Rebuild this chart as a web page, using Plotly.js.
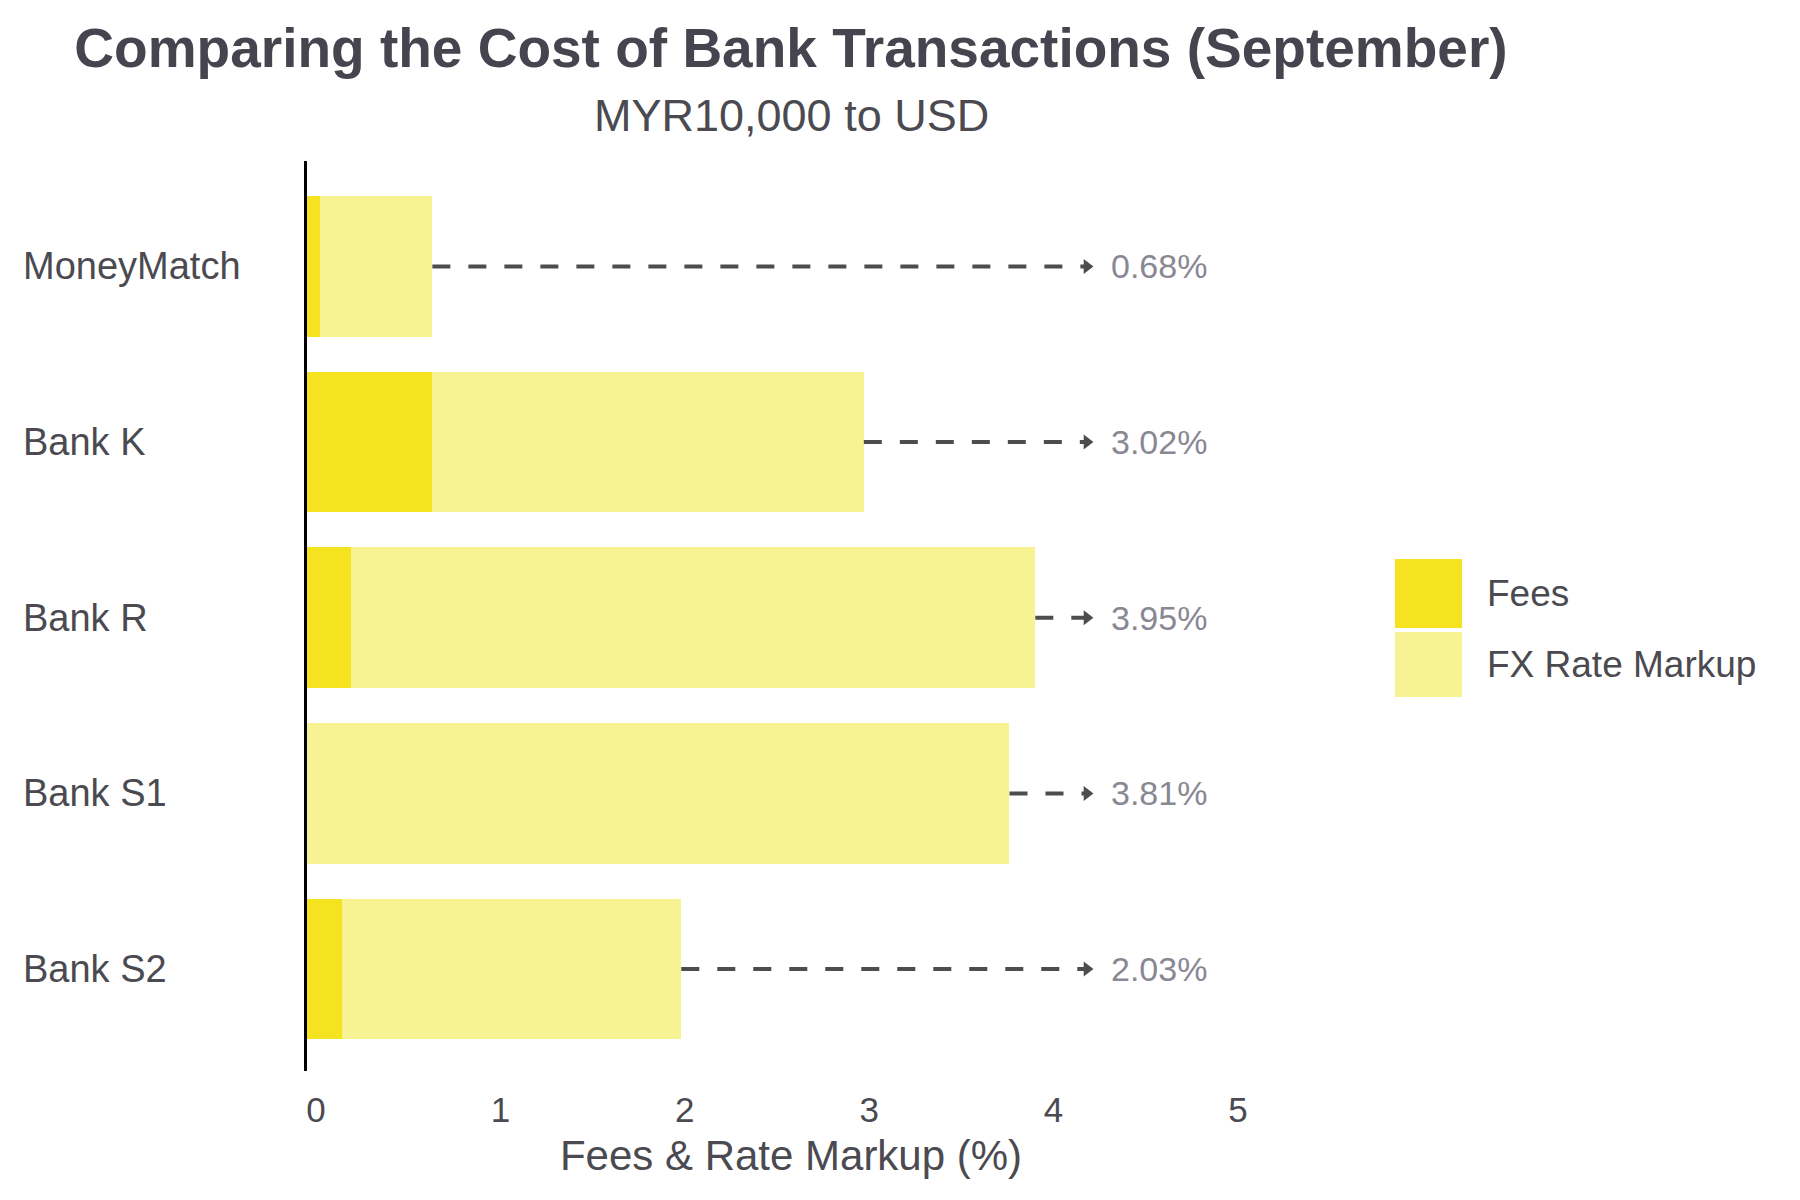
<!DOCTYPE html>
<html>
<head>
<meta charset="utf-8">
<script src="https://cdn.plot.ly/plotly-3.0.1.min.js"></script>
<style>
  body { margin: 0; background: #fff; }
  #chart { width: 1800px; height: 1200px; }
</style>
</head>
<body>
<div id="chart"></div>
<script>
// --- data ---
const banks = ['MoneyMatch', 'Bank K', 'Bank R', 'Bank S1', 'Bank S2'];
const fees = [0.07, 0.68, 0.24, 0.00, 0.19];
const markup = [0.61, 2.34, 3.71, 3.81, 1.84];
const totals = [0.68, 3.02, 3.95, 3.81, 2.03];
const seriesNames = ['Fees', 'FX Rate Markup'];
const seriesColors = ['#F5E31F', '#F7F292'];
const xTicks = [0, 1, 2, 3, 4, 5];

const ARROW_END = 4.23;
const LABEL_X = 4.35;

// plot area in pixels (used to place legend / subtitle in paper units)
const M = { l: 307, r: 525, t: 161, b: 129 };
const W = 1800, H = 1200;
const PW = W - M.l - M.r, PH = H - M.t - M.b;
const px = x => (x - M.l) / PW;
const py = y => (H - M.b - y) / PH;

const FONT = 'Liberation Sans, Arial, sans-serif';

// stacked bars
const traces = [
    {
        type: 'bar', orientation: 'h', name: seriesNames[0],
        y: banks, x: fees, width: 0.8,
        marker: { color: seriesColors[0], line: { width: 0 } },
        showlegend: false, hoverinfo: 'skip'
    },
    {
        type: 'bar', orientation: 'h', name: seriesNames[1],
        y: banks, x: markup, width: 0.8,
        marker: { color: seriesColors[1], line: { width: 0 } },
        showlegend: false, hoverinfo: 'skip'
    }
];

// dashed leaders from bar end to arrow
banks.forEach((b, i) => {
    traces.push({
        type: 'scatter', mode: 'lines',
        x: [totals[i], ARROW_END], y: [b, b],
        line: { color: '#4d4d4d', width: 4, dash: '18px,18px' },
        showlegend: false, hoverinfo: 'skip'
    });
});
traces.push({
    type: 'scatter', mode: 'markers',
    x: banks.map(() => ARROW_END), y: banks,
    marker: { symbol: 'triangle-right', size: 13, color: '#4d4d4d' },
    showlegend: false, hoverinfo: 'skip'
});

const annotations = [];

// category labels, left aligned
banks.forEach(b => {
    annotations.push({
        xref: 'paper', yref: 'y', x: px(21), y: b,
        xanchor: 'left', yanchor: 'middle', showarrow: false,
        text: b, font: { family: FONT, size: 38, color: '#4a4a50' }
    });
});

// value labels
banks.forEach((b, i) => {
    annotations.push({
        xref: 'x', yref: 'y', x: LABEL_X, y: b,
        xanchor: 'left', yanchor: 'middle', showarrow: false,
        text: totals[i].toFixed(2) + '%',
        font: { family: FONT, size: 34, color: '#888893' }
    });
});

// subtitle
annotations.push({
    xref: 'paper', yref: 'paper', x: px(791), y: py(116),
    xanchor: 'center', yanchor: 'middle', showarrow: false,
    text: 'MYR10,000 to USD', font: { family: FONT, size: 45, color: '#4a4a50' }
});

// legend (drawn by hand, keys are large squares)
const shapes = [];
const keyTop = [559, 632], keyBot = [628, 697];
seriesNames.forEach((n, i) => {
    shapes.push({
        type: 'rect', xref: 'paper', yref: 'paper',
        x0: px(1395), x1: px(1462), y0: py(keyBot[i]), y1: py(keyTop[i]),
        fillcolor: seriesColors[i], line: { width: 0 }
    });
    annotations.push({
        xref: 'paper', yref: 'paper', x: px(1485), y: py((keyTop[i] + keyBot[i]) / 2),
        xanchor: 'left', yanchor: 'middle', showarrow: false,
        text: n, font: { family: FONT, size: 37, color: '#4a4a50' }
    });
});

const layout = {
    width: W, height: H,
    margin: M,
    paper_bgcolor: '#fff', plot_bgcolor: '#fff',
    font: { family: FONT, color: '#4a4a50' },
    barmode: 'stack',
    title: {
        text: 'Comparing the Cost of Bank Transactions (September)',
        x: 791 / W, xref: 'container', xanchor: 'center',
        y: 1 - 48 / H, yref: 'container', yanchor: 'middle',
        font: { family: FONT, size: 55, weight: 700, color: '#45454f' }
    },
    xaxis: {
        range: [0, 5.25], tickvals: xTicks, ticktext: xTicks.map(String),
        showgrid: false, zeroline: false, showline: false, ticks: '',
        ticklabelshift: 9, ticklabelstandoff: 15,
        tickfont: { family: FONT, size: 35, color: '#4a4a50' },
        title: { text: 'Fees & Rate Markup (%)', standoff: 12,
                 font: { family: FONT, size: 42, color: '#4a4a50' } }
    },
    yaxis: {
        type: 'category', categoryarray: banks, categoryorder: 'array',
        range: [4.58, -0.6], autorange: false,
        showticklabels: false, showgrid: false, zeroline: false,
        showline: true, linecolor: '#000', linewidth: 3.5, ticks: ''
    },
    showlegend: false,
    shapes: shapes,
    annotations: annotations
};

Plotly.newPlot('chart', traces, layout, { staticPlot: true, displayModeBar: false });
</script>
</body>
</html>
